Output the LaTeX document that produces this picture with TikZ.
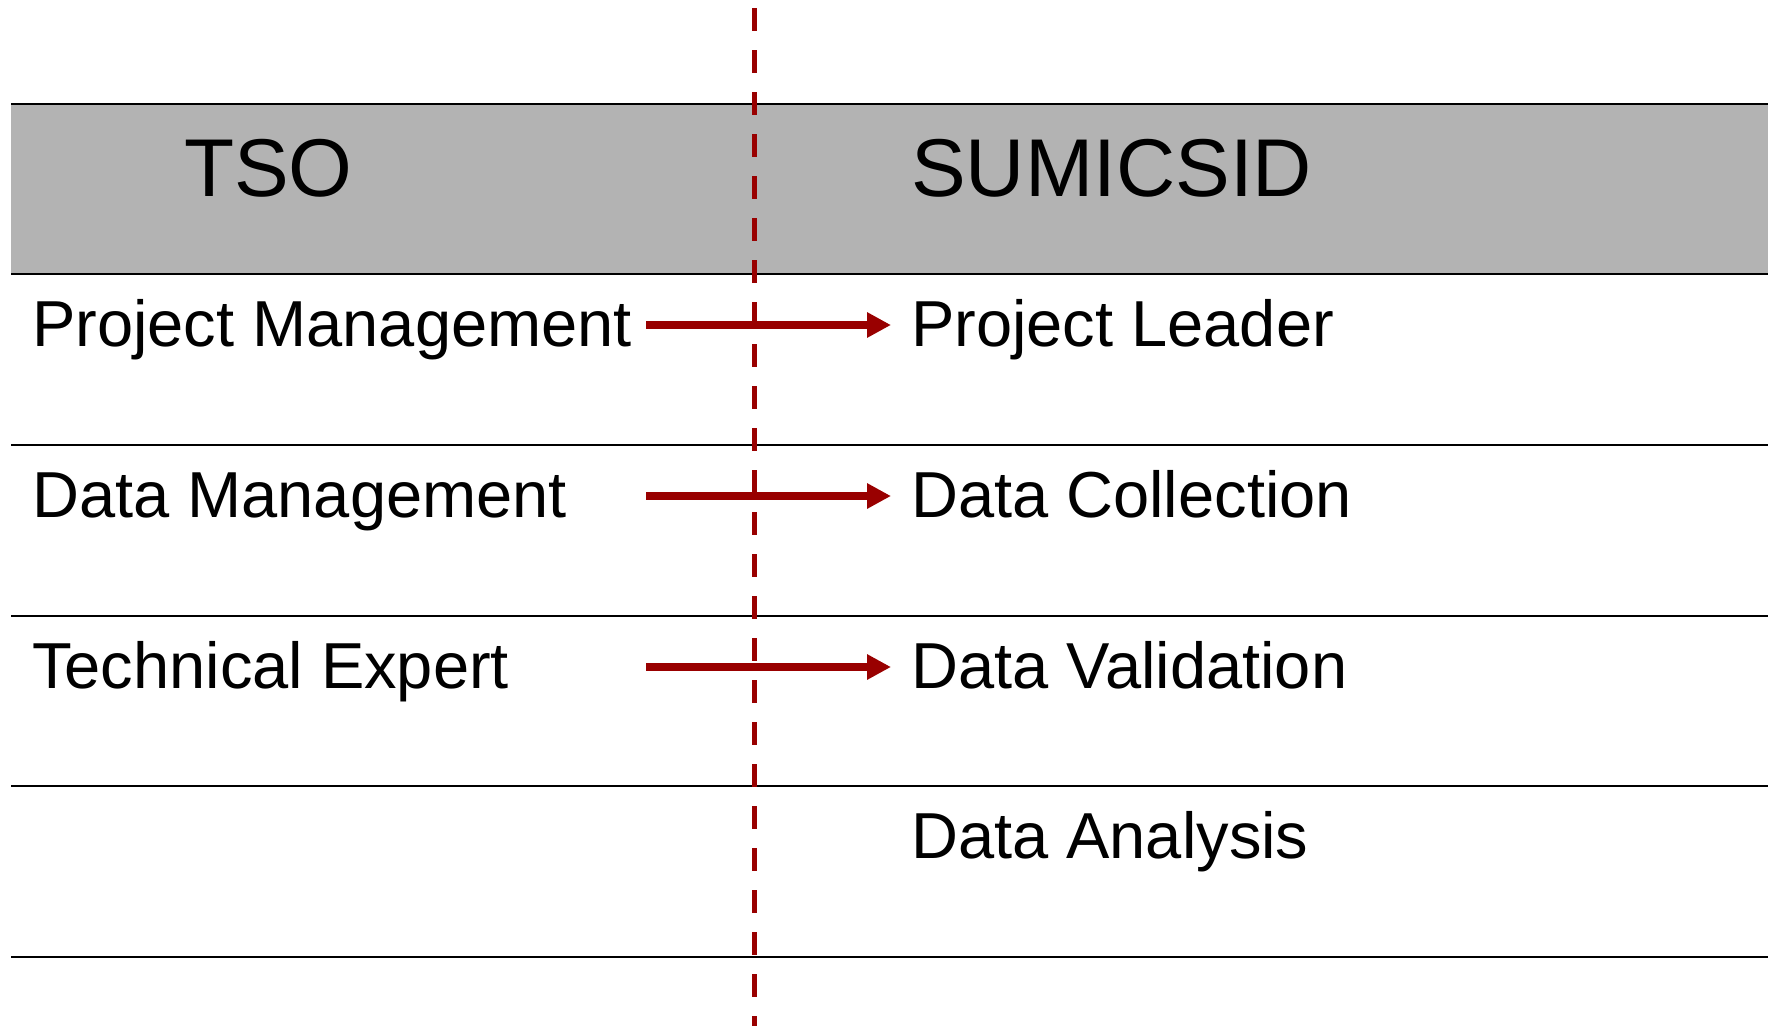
\documentclass[tikz,border=0pt]{standalone}
\usepackage{fontspec}
\setmainfont{Liberation Sans}
\usetikzlibrary{arrows.meta}
\definecolor{dred}{HTML}{990000}
\definecolor{hgray}{HTML}{B3B3B3}
\begin{document}
\begin{tikzpicture}[x=1pt,y=-1pt,
  rule/.style={line width=2.5pt,black},
  head/.style={anchor=base west,inner sep=0pt,font=\fontsize{82}{90}\selectfont},
  lbl/.style={anchor=base west,inner sep=0pt,font=\fontsize{65}{72}\selectfont},
  conn/.style={line width=8pt,dred,-{Triangle[length=24pt,width=24pt]}},
  divider/.style={line width=5pt,dred,dash pattern=on 23pt off 19pt}]
\useasboundingbox (0,0) rectangle (1768,1026);
\fill[hgray] (11,104) rectangle (1768,274);
\foreach \y in {104,274,445,616,786,957} \draw[rule] (11,\y) -- (1768,\y);
\node[head] (tso) at (184,196) {TSO};
\node[head] (sum) at (911,196) {SUMICSID};
\node[lbl] (pm) at (32,346) {Project Management};
\node[lbl] (dm) at (32,517) {Data Management};
\node[lbl] (te) at (32,688) {Technical Expert};
\node[lbl] (pl) at (911,346) {Project Leader};
\node[lbl] (dc) at (911,517) {Data Collection};
\node[lbl] (dv) at (911,688) {Data Validation};
\node[lbl] (da) at (911,858) {Data Analysis};
\coordinate (s1) at (646,325); \coordinate (e1) at (891,325);
\coordinate (s2) at (646,496); \coordinate (e2) at (891,496);
\coordinate (s3) at (646,667); \coordinate (e3) at (891,667);
\draw[conn] (s1) -- (e1);
\draw[conn] (s2) -- (e2);
\draw[conn] (s3) -- (e3);
\coordinate (dtop) at (754,8); \coordinate (dbot) at (754,1026);
\draw[divider] (dtop) -- (dbot);
\end{tikzpicture}
\end{document}
